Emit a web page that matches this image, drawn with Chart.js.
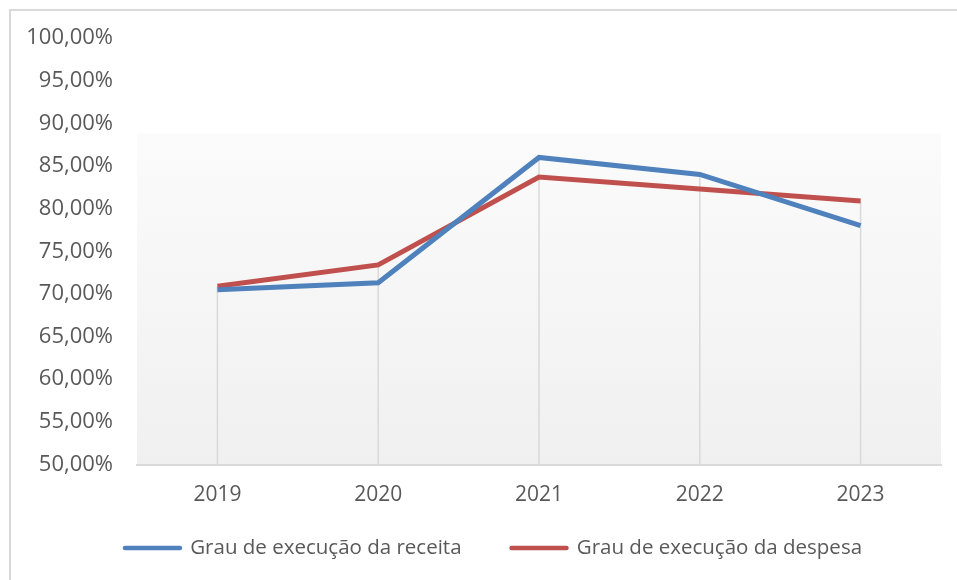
<!DOCTYPE html>
<html>
<head>
<meta charset="utf-8">
<script src="https://cdn.jsdelivr.net/npm/chart.js@4"></script>
<style>
  html, body { margin: 0; padding: 0; background: #fff; }
  #wrap { width: 957px; height: 580px; }
</style>
</head>
<body>
<div id="wrap"><canvas id="grauChart" width="957" height="580"></canvas></div>
<script>
const anos = ['2019', '2020', '2021', '2022', '2023'];
const receita = [70.5, 71.3, 86.0, 84.0, 78.0];
const despesa = [70.9, 73.4, 83.7, 82.3, 80.9];
const yMin = 50;
const yMax = 100;
const yStep = 5;

const corTexto = '#595959';
const legendaFonte = 20.5;
const legendaPadding = 50;

const fundoPlugin = {
    id: 'fundo',
    afterLayout(chart) {
        // legenda: um pouco à direita e centrada em y = 548, como no original
        const lg = chart.legend;
        const dy = 548 - (lg.top + legendaPadding + legendaFonte / 2);
        lg.top += dy;
        lg.bottom += dy;
        lg.left += 18;
        lg.right += 18;
    },
    beforeDraw(chart) {
        // moldura (topo e esquerda) + fundo em gradiente
        const c = chart.ctx;
        const a = chart.chartArea;
        c.save();
        c.strokeStyle = '#d9d9d9';
        c.lineWidth = 2;
        c.beginPath();
        c.moveTo(10, 580);
        c.lineTo(10, 10);
        c.lineTo(957, 10);
        c.stroke();

        const top = a.top + (a.bottom - a.top) * 0.224;
        const g = c.createLinearGradient(0, top, 0, a.bottom);
        g.addColorStop(0, '#fbfbfb');
        g.addColorStop(1, '#f0f0f0');
        c.fillStyle = g;
        c.fillRect(a.left, top, a.right - a.left, a.bottom - top);
        c.restore();
    },
    beforeDatasetsDraw(chart) {
        // linhas de queda a partir do ponto mais alto de cada ano
        const c = chart.ctx;
        const xs = chart.scales.x;
        const ys = chart.scales.y;
        c.save();
        c.strokeStyle = '#d9d9d9';
        c.lineWidth = 1.5;
        anos.forEach((ano, i) => {
            const x = xs.getPixelForValue(i);
            const yTop = ys.getPixelForValue(Math.max(receita[i], despesa[i]));
            c.beginPath();
            c.moveTo(x, yTop);
            c.lineTo(x, ys.bottom);
            c.stroke();
        });
        c.restore();
    }
};

new Chart(document.getElementById('grauChart'), {
    type: 'line',
    data: {
        labels: anos,
        datasets: [
            {
                label: 'Grau de execução da receita',
                data: receita,
                borderColor: '#4f81bd',
                backgroundColor: '#4f81bd',
                borderWidth: 5,
                pointRadius: 0,
                tension: 0,
                fill: false
            },
            {
                label: 'Grau de execução da despesa',
                data: despesa,
                borderColor: '#c0504d',
                backgroundColor: '#c0504d',
                borderWidth: 5,
                pointRadius: 0,
                tension: 0,
                fill: false
            }
        ]
    },
    options: {
        responsive: false,
        animation: false,
        layout: { padding: { top: 38, left: 10, right: 16, bottom: -17 } },
        plugins: {
            tooltip: { enabled: false },
            legend: {
                position: 'bottom',
                labels: {
                    color: corTexto,
                    font: { family: 'Open Sans', size: legendaFonte },
                    usePointStyle: true,
                    pointStyle: 'line',
                    pointStyleWidth: 55,
                    padding: legendaPadding,
                    generateLabels(chart) {
                        return chart.data.datasets.map((ds, i) => ({
                            text: ds.label,
                            fillStyle: ds.borderColor,
                            strokeStyle: ds.borderColor,
                            lineWidth: 4.5,
                            lineCap: 'round',
                            pointStyle: 'line',
                            fontColor: corTexto,
                            datasetIndex: i,
                            hidden: false
                        }));
                    }
                }
            }
        },
        scales: {
            x: {
                offset: true,
                grid: { display: false, drawTicks: false },
                border: { display: true, color: '#d9d9d9', width: 2 },
                ticks: {
                    color: corTexto,
                    font: { family: 'Open Sans', size: 21 },
                    padding: 18
                },
                afterFit(scale) { scale.height = 52; }
            },
            y: {
                min: yMin,
                max: yMax,
                grid: { display: false, drawTicks: false },
                border: { display: false },
                ticks: {
                    stepSize: yStep,
                    color: corTexto,
                    font: { family: 'Open Sans', size: 22 },
                    padding: 24,
                    callback: v => v.toFixed(2).replace('.', ',') + '%'
                },
                afterFit(scale) { scale.width = 127; }
            }
        }
    },
    plugins: [fundoPlugin]
});
</script>
</body>
</html>
